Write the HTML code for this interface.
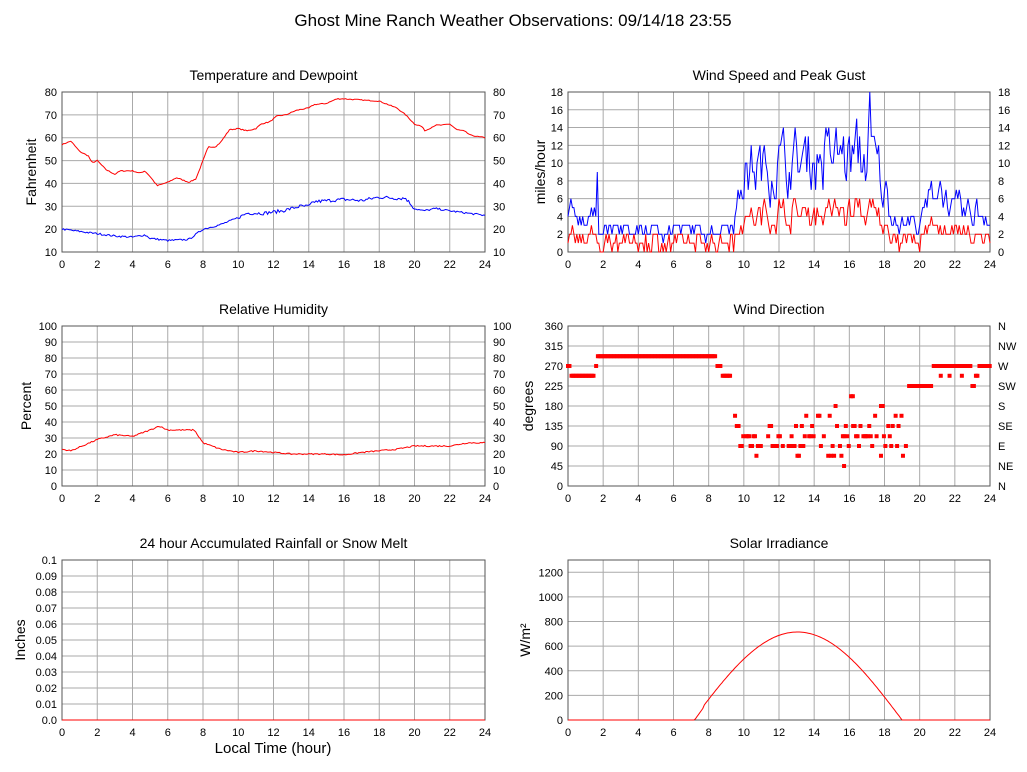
<!DOCTYPE html>
<html><head><meta charset="utf-8"><style>
body{margin:0;background:#fff}
svg{display:block;font-family:"Liberation Sans",sans-serif}
</style></head><body>
<svg id="s" width="1027" height="772" xmlns="http://www.w3.org/2000/svg"></svg>
<script>
var S=document.getElementById('s'),out='';
var seed=7;function rnd(){seed=(seed*16807)%2147483647;return seed/2147483647;}
function interp(pts,t){for(var i=1;i<pts.length;i++){if(t<=pts[i][0]){var a=pts[i-1],b=pts[i];return a[1]+(b[1]-a[1])*(t-a[0])/(b[0]-a[0]);}}return pts[pts.length-1][1];}
function panel(o){
 var x0=o.x,y0=o.y,w=o.w,h=o.h;
 var X=function(t){return x0+t/24*w},Y=function(v){return y0+h-(v-o.min)/(o.max-o.min)*h};
 out+='<text x="'+(x0+w/2)+'" y="'+(y0-12)+'" font-size="14" text-anchor="middle" fill="#000">'+o.title+'</text>';
 for(var t=0;t<=24;t+=2){out+='<line x1="'+X(t)+'" y1="'+y0+'" x2="'+X(t)+'" y2="'+(y0+h)+'" stroke="#aaa"/>';
  out+='<text x="'+X(t)+'" y="'+(y0+h+16)+'" font-size="11" text-anchor="middle">'+t+'</text>';}
 o.ticks.forEach(function(v,i){var y=Y(v);out+='<line x1="'+x0+'" y1="'+y+'" x2="'+(x0+w)+'" y2="'+y+'" stroke="#aaa"/>';
  out+='<text x="'+(x0-5)+'" y="'+(y+4)+'" font-size="11" text-anchor="end">'+(o.fmt?o.fmt(v):v)+'</text>';
  if(o.right)out+='<text x="'+(x0+w+8)+'" y="'+(y+4)+'" font-size="11">'+o.right[i]+'</text>';});
 out+='<rect x="'+x0+'" y="'+y0+'" width="'+w+'" height="'+h+'" fill="none" stroke="#555"/>';
 out+='<text transform="translate('+o.lx+','+(y0+h/2)+') rotate(-90)" font-size="14" text-anchor="middle">'+o.ylabel+'</text>';
 (o.series||[]).forEach(function(s){var d='';for(var i=0;i<=288;i++){var t=i/12;var v=s.f(t);d+=(i?'L':'M')+X(t).toFixed(1)+','+Y(v).toFixed(1);}
  out+='<path d="'+d+'" fill="none" stroke="'+s.c+'" stroke-width="1"/>';});
 if(o.dots)o.dots.forEach(function(p){out+='<rect x="'+(X(p[0])-2)+'" y="'+(Y(p[1])-2)+'" width="4" height="4" fill="#f00"/>';});
}
out+='<text x="513" y="26" font-size="17" text-anchor="middle">Ghost Mine Ranch Weather Observations: 09/14/18 23:55</text>';
var T=[[0,57],[.5,58.5],[1,54],[1.5,52],[1.7,49],[2,50],[2.5,46],[3,44],[3.3,45.5],[4,45.5],[4.4,44.5],[4.7,45.5],[5,43],[5.4,39],[6,40.5],[6.5,42.5],[7.2,40.5],[7.6,42],[8,50],[8.3,56],[8.7,56],[9,58],[9.5,63.5],[10,64],[10.5,63],[11,64],[11.3,66],[11.8,67],[12.2,69.5],[12.7,70],[13.3,72],[14,73],[14.3,74.5],[15,75],[15.6,77],[16,77],[17,76.5],[18,76],[19,73],[19.5,70],[20,66],[20.4,65],[20.6,63],[21.2,65.5],[21.6,65.5],[22,66],[22.4,63.5],[22.8,63],[23.2,61],[24,60]];
var D=[[0,20],[1,19],[2,18],[3,17],[4,16.5],[4.7,17.5],[5,16],[6,15],[7.2,15.5],[8,20],[9,22],[10,25],[10.5,27],[11.5,27],[12.5,28],[13.5,30],[14,30],[14.3,32],[16,33],[17,32.5],[18,34],[19,33.5],[19.5,33.5],[20,29],[20.5,28],[21.2,29],[22,28],[23,27],[24,26]];
var R=[[0,23],[.5,22],[2,29],[3,32],[4,31],[5,35],[5.5,37.5],[6,35],[7.5,35],[8,27],[9,23],[10,21],[11,22],[12,21],[13,20],[15,20],[16,19.5],[17,21],[18,22],[19,23],[20,25],[21,25],[22,25],[23,27],[24,27]];
function rng(a,b,s){var r=[];for(var v=a;v<=b;v+=s)r.push(v);return r;}
panel({x:62,y:92,w:423,h:160,min:10,max:80,ticks:rng(10,80,10),right:rng(10,80,10),title:'Temperature and Dewpoint',ylabel:'Fahrenheit',lx:36,
 series:[{c:'#f00',f:function(t){return interp(T,t)+(rnd()-.5)*.4}},{c:'#00f',f:function(t){return interp(D,t)+(rnd()-.5)*(t>10&&t<20?1.5:.8)}}]});
// wind
var env=[[0,4],[1.5,4],[2,2.5],[8.5,2.5],[9.5,4],[10,9],[12,10],[16,11],[17.5,10],[18.5,4],[20,3],[21,8],[22,4.5],[24,4.5]];
var gust=[],spd=[],dev=0;for(var i=0;i<=288;i++){var t=i/12,e=interp(env,t);dev=dev*0.5+(rnd()-.5)*e*0.6;var g=Math.max(0,Math.round(e+dev));gust.push(g);spd.push(Math.max(0,Math.min(g,Math.round(g*0.42+(rnd()-.5)*1.6))));}
gust[20]=9;gust[206]=18;gust[205]=14;
panel({x:568,y:92,w:422,h:160,min:0,max:18,ticks:rng(0,18,2),right:rng(0,18,2),title:'Wind Speed and Peak Gust',ylabel:'miles/hour',lx:545,
 series:[{c:'#00f',f:function(t){return gust[Math.round(t*12)]}},{c:'#f00',f:function(t){return spd[Math.round(t*12)]}}]});
panel({x:62,y:326,w:423,h:160,min:0,max:100,ticks:rng(0,100,10),right:rng(0,100,10),title:'Relative Humidity',ylabel:'Percent',lx:31,
 series:[{c:'#f00',f:function(t){return interp(R,t)+(rnd()-.5)*.8}}]});
var dots=[];function seg(a,b,v){for(var t=a;t<=b;t+=1/12)dots.push([t,v]);}
seg(0,.15,270);seg(.2,1.5,248);seg(1.6,1.6,270);seg(1.7,8.4,292);seg(8.5,8.7,270);seg(8.8,9.3,248);
dots.push([9.5,158]);dots.push([9.6,135]);dots.push([9.7,135]);
var mids=[68,90,90,112,112,112,135,158];for(var t=9.8;t<19.4;t+=1/12){if(rnd()<.8){var v=mids[Math.floor(rnd()*mids.length)];if(t<11&&v>120)v=112;if(t>15&&t<17&&rnd()<.15)v=180;dots.push([t,v]);}}
dots.push([15.7,45]);dots.push([16.1,202]);dots.push([16.2,202]);dots.push([17.8,180]);dots.push([17.9,180]);
seg(19.4,20.7,225);seg(20.8,22.9,270);dots.push([21.2,248]);dots.push([21.7,248]);dots.push([22.4,248]);seg(23,23.1,225);seg(23.2,23.3,248);seg(23.4,24,270);
panel({x:568,y:326,w:422,h:160,min:0,max:360,ticks:rng(0,360,45),right:['N','NE','E','SE','S','SW','W','NW','N'],title:'Wind Direction',ylabel:'degrees',lx:533,dots:dots});
panel({x:62,y:560,w:423,h:160,min:0,max:.1,ticks:rng(0,10,1).map(function(v){return v/100}),fmt:function(v){return v==0?'0.0':v.toFixed(2).replace(/0$/,'')==v.toFixed(1)?v.toFixed(1):v.toFixed(2)},title:'24 hour Accumulated Rainfall or Snow Melt',ylabel:'Inches',lx:25,
 series:[{c:'#f00',f:function(t){return 0}}]});
panel({x:568,y:560,w:422,h:160,min:0,max:1300,ticks:rng(0,1200,200),title:'Solar Irradiance',ylabel:'W/m\u00b2',lx:530,
 series:[{c:'#f00',f:function(t){if(t<7.2||t>19)return 0;if(t<7.7)return (t-7.2)*200;return Math.max(0,715*Math.sin(Math.PI*(t-7.1)/(19-7.1)));}}]});
out+='<text x="273" y="753" font-size="15" text-anchor="middle">Local Time (hour)</text>';
S.innerHTML=out;
</script>
</body></html>
